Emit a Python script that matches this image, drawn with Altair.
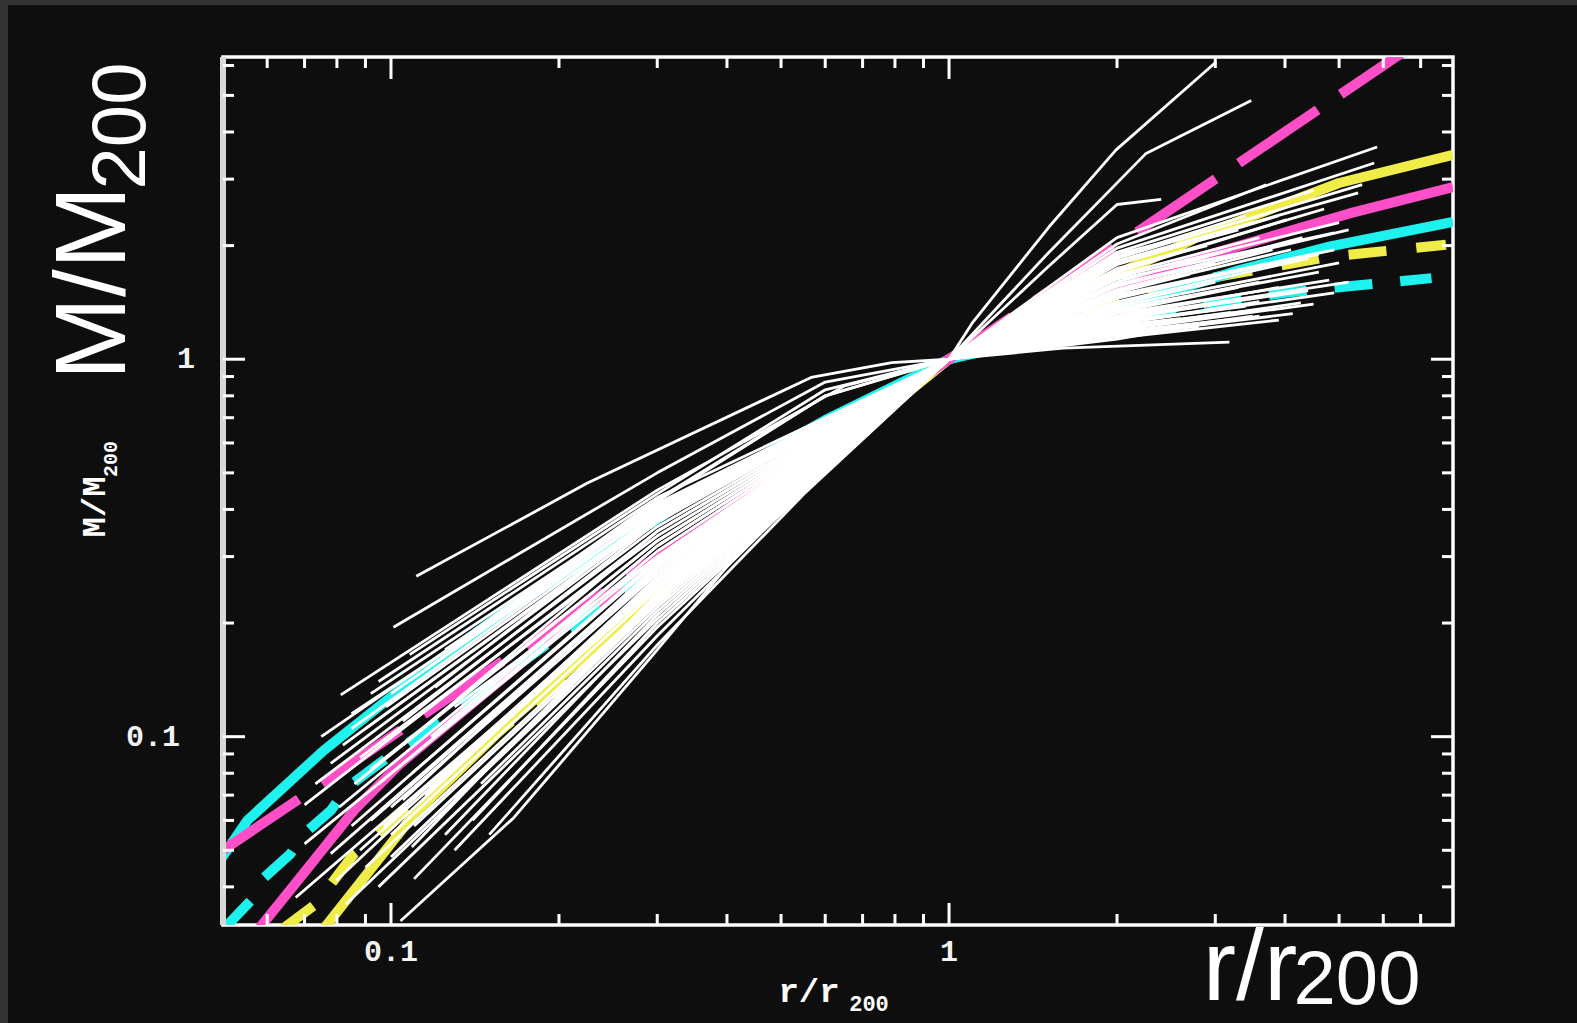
import altair as alt
import pandas as pd

# ---------------- data ----------------
X_DOMAIN = [0.05, 8.0]
Y_DOMAIN = [0.0317, 6.32]

X_MAJOR = [0.1, 1.0]
X_MINOR = [0.06, 0.07, 0.08, 0.09, 0.2, 0.3, 0.4, 0.5, 0.6, 0.7, 0.8, 0.9, 2, 3, 4, 5, 6, 7]
Y_MAJOR = [0.1, 1.0]
Y_MINOR = [0.04, 0.05, 0.06, 0.07, 0.08, 0.09, 0.2, 0.3, 0.4, 0.5, 0.6, 0.7, 0.8, 0.9, 2, 3, 4, 5, 6]
X_LABELS = ["0.1", "1"]
Y_LABELS = ["0.1", "1"]

PINK_DASH_X = [0.0494, 0.1, 0.3, 1.0, 3.0, 6.6]
PINK_DASH_Y = [0.0494, 0.1, 0.3, 1.0, 3.0, 6.6]

PINK_SOLID_X = [0.058, 0.068, 0.086, 0.104, 0.2, 0.4, 0.7, 1.0, 1.6, 2.71, 5.2, 8.0]
PINK_SOLID_Y = [0.031, 0.0415, 0.064, 0.085, 0.19, 0.40, 0.69, 1.0, 1.33, 1.83, 2.43, 2.86]

CYAN_SOLID_X = [0.0494, 0.0553, 0.0758, 0.109, 0.167, 0.29, 0.37, 0.6, 1.0, 1.5, 2.0, 3.3, 4.82, 8.0]
CYAN_SOLID_Y = [0.047, 0.060, 0.092, 0.141, 0.225, 0.365, 0.46, 0.69, 1.0, 1.2, 1.36, 1.72, 1.99, 2.31]

CYAN_DASH_X = [0.0502, 0.056, 0.0592, 0.066, 0.0698, 0.078, 0.0835, 0.0932, 0.2, 0.4, 0.7, 1.0, 2.4, 3.01, 4.0, 5.2, 7.32]
CYAN_DASH_Y = [0.031, 0.0367, 0.0423, 0.0489, 0.0552, 0.0637, 0.0734, 0.0829, 0.185, 0.39, 0.69, 1.0, 1.34, 1.41, 1.5, 1.56, 1.64]

YELLOW_SOLID_X = [0.0758, 0.11, 0.166, 0.3, 0.5, 0.75, 1.0, 1.5, 2.51, 2.79, 5.0, 8.0]
YELLOW_SOLID_Y = [0.031, 0.0623, 0.1125, 0.24, 0.44, 0.71, 1.0, 1.4, 1.95, 2.11, 2.93, 3.48]

YELLOW_DASH_X = [0.064, 0.0733, 0.0859, 0.104, 0.2, 0.4, 0.7, 1.0, 2.0, 3.0, 4.82, 7.77]
YELLOW_DASH_Y = [0.031, 0.036, 0.049, 0.0623, 0.14, 0.33, 0.66, 1.0, 1.4, 1.65, 1.87, 2.01]

# individual simulated profiles (white), each a list of (r/r200, M/M200)
WHITE_CURVES = [
    [[0.111, 0.266], [0.2245, 0.469], [0.566, 0.895], [0.79, 0.98], [1, 1], [1.6, 1.07], [3.18, 1.11]],
    [[0.101, 0.195], [0.3, 0.50], [0.6, 0.87], [1, 1], [2, 1.13], [2.96, 1.25]],
    [[0.0813, 0.129], [0.3, 0.45], [0.65, 0.85], [1, 1], [2, 1.16], [4.13, 1.32]],
    [[0.075, 0.100], [0.3, 0.41], [1, 1], [2, 1.2], [4.27, 1.41]],
    [[0.12, 0.135], [0.3, 0.39], [1, 1], [2, 1.24], [3.6, 1.42]],
    [[0.0732, 0.075], [0.3, 0.36], [1, 1], [2, 1.27], [4.0, 1.50]],
    [[0.105, 0.095], [0.3, 0.35], [1, 1], [2, 1.3], [3.9, 1.55]],
    [[0.088, 0.088], [0.3, 0.34], [1, 1], [2, 1.33], [3.3, 1.55]],
    [[0.0807, 0.065], [0.3, 0.32], [1, 1], [2, 1.36], [4.6, 1.7]],
    [[0.095, 0.075], [0.3, 0.31], [1, 1], [2, 1.4], [3.0, 1.6]],
    [[0.13, 0.12], [0.3, 0.30], [1, 1], [2, 1.42], [4.4, 1.85]],
    [[0.085, 0.058], [0.3, 0.295], [1, 1], [2, 1.45], [3.5, 1.75]],
    [[0.109, 0.08], [0.3, 0.29], [1, 1], [2, 1.48], [4.9, 1.95]],
    [[0.078, 0.049], [0.3, 0.28], [1, 1], [2, 1.5], [2.7, 1.68]],
    [[0.092, 0.06], [0.3, 0.275], [1, 1], [2, 1.53], [3.8, 1.95]],
    [[0.1, 0.065], [0.3, 0.27], [1, 1], [2, 1.56], [4.3, 2.1]],
    [[0.0797, 0.0415], [0.3, 0.26], [1, 1], [2, 1.6], [3.2, 1.95]],
    [[0.115, 0.07], [0.3, 0.255], [1, 1], [2, 1.63], [4.9, 2.16]],
    [[0.0675, 0.0375], [0.3, 0.25], [1, 1], [2, 1.67], [3.6, 2.1]],
    [[0.109, 0.051], [0.3, 0.24], [1, 1], [2, 1.7], [4.02, 2.34]],
    [[0.09, 0.045], [0.3, 0.235], [1, 1], [2, 1.74], [2.9, 2.0]],
    [[0.12, 0.06], [0.3, 0.23], [1, 1], [2, 1.78], [3.9, 2.4]],
    [[0.1, 0.048], [0.3, 0.225], [1, 1], [2, 1.82], [5.41, 2.76]],
    [[0.083, 0.036], [0.3, 0.22], [1, 1], [2, 1.87], [3.4, 2.4]],
    [[0.125, 0.055], [0.3, 0.21], [1, 1], [2, 1.92], [4.5, 2.8]],
    [[0.095, 0.04], [0.3, 0.205], [1, 1], [2, 1.97], [5.78, 3.31]],
    [[0.14, 0.06], [0.3, 0.2], [1, 1], [2, 2.02], [3.7, 2.9]],
    [[0.11, 0.042], [0.3, 0.195], [1, 1], [2, 2.1], [5.85, 3.65]],
    [[0.13, 0.05], [0.3, 0.185], [0.55, 0.45], [1, 1], [1.5, 1.75], [2.0, 2.57], [2.4, 2.65]],
    [[0.15, 0.055], [0.3, 0.175], [0.55, 0.44], [1, 1], [1.5, 1.9], [2.25, 3.5], [3.48, 4.85]],
    [[0.104, 0.0325], [0.166, 0.061], [0.295, 0.165], [0.464, 0.367], [0.676, 0.601], [1, 1],
     [1.1, 1.246], [1.51, 2.24], [1.99, 3.58], [3.01, 6.13]],
    [[0.086, 0.075], [0.3, 0.33], [1, 1], [2, 1.38], [5.0, 1.8]],
    [[0.097, 0.058], [0.3, 0.26], [1, 1], [2, 1.58], [5.2, 2.2]],
    [[0.07, 0.052], [0.3, 0.3], [1, 1], [2, 1.46], [4.6, 1.9]],
    [[0.118, 0.1], [0.3, 0.32], [1, 1], [2, 1.25], [3.4, 1.38]],
    [[0.105, 0.11], [0.3, 0.37], [1, 1], [2, 1.2], [3.0, 1.3]],
    [[0.09, 0.105], [0.3, 0.38], [1, 1], [2, 1.22], [3.7, 1.36]],
    [[0.078, 0.085], [0.3, 0.375], [1, 1], [2, 1.28], [4.4, 1.52]],
    [[0.1, 0.13], [0.3, 0.40], [1, 1], [2, 1.18], [3.3, 1.28]],
    [[0.07, 0.066], [0.3, 0.35], [1, 1], [2, 1.32], [4.8, 1.62]],
    [[0.115, 0.15], [0.3, 0.42], [0.6, 0.8], [1, 1], [2, 1.15], [3.6, 1.3]],
    [[0.095, 0.14], [0.3, 0.43], [1, 1], [2, 1.17], [2.8, 1.22]],
    [[0.085, 0.115], [0.3, 0.395], [1, 1], [2, 1.26], [3.1, 1.36]],
    [[0.105, 0.068], [0.3, 0.285], [1, 1], [2, 1.52], [4.1, 1.95]],
    [[0.088, 0.05], [0.3, 0.25], [1, 1], [2, 1.65], [5.0, 2.3]],
    [[0.12, 0.075], [0.3, 0.265], [1, 1], [2, 1.57], [3.0, 1.8]],
    [[0.1, 0.055], [0.3, 0.245], [1, 1], [2, 1.72], [4.7, 2.5]],
    [[0.13, 0.068], [0.3, 0.235], [1, 1], [2, 1.8], [3.3, 2.2]],
    [[0.11, 0.058], [0.3, 0.23], [1, 1], [2, 1.85], [5.5, 2.9]],
    [[0.145, 0.075], [0.3, 0.215], [1, 1], [2, 1.9], [2.8, 2.15]],
    [[0.092, 0.082], [0.3, 0.33], [1, 1], [2, 1.35], [3.6, 1.6]],
    [[0.082, 0.095], [0.3, 0.385], [1, 1], [2, 1.24], [4.9, 1.5]],
    [[0.108, 0.165], [0.3, 0.44], [0.6, 0.83], [1, 1], [2, 1.14], [3.9, 1.27]],
    [[0.092, 0.13], [0.3, 0.415], [1, 1], [2, 1.19], [4.5, 1.4]],
    [[0.125, 0.17], [0.3, 0.405], [1, 1], [2, 1.21], [3.2, 1.33]],
    [[0.085, 0.105], [0.3, 0.40], [1, 1], [2, 1.23], [2.6, 1.28]],
    [[0.14, 0.19], [0.3, 0.425], [0.6, 0.8], [1, 1], [2, 1.16], [3.5, 1.3]],
    [[0.098, 0.12], [0.3, 0.39], [1, 1], [2, 1.29], [5.2, 1.6]],
]

# ---------------- layout ----------------
W, H = 1230, 868
PAD_L, PAD_T, PAD_R, PAD_B = 223, 57, 124, 98
MAJ, MIN = 22, 11
BG = "#0e0e0e"
CYAN, PINK, YELLOW = "#1ef2ee", "#ff4fc8", "#f0ec48"

xs = alt.Scale(type="log", domain=X_DOMAIN, nice=False)
ys = alt.Scale(type="log", domain=Y_DOMAIN, nice=False)
X = lambda: alt.X("x:Q", scale=xs, axis=None)
Y = lambda: alt.Y("y:Q", scale=ys, axis=None)


def curve(xv, yv, color, dash=None, width=10):
    df = pd.DataFrame({"x": xv, "y": yv, "o": list(range(len(xv)))})
    kw = dict(clip=True, color=color, strokeWidth=width, strokeCap="butt", strokeJoin="round")
    if dash:
        kw["strokeDash"] = dash
    return alt.Chart(df).mark_line(**kw).encode(x=X(), y=Y(), order="o:Q")


rows = []
for i, c in enumerate(WHITE_CURVES):
    for j, (xv, yv) in enumerate(c):
        rows.append({"id": i, "o": j, "x": xv, "y": yv})
white = alt.Chart(pd.DataFrame(rows)).mark_line(
    clip=True, color="white", strokeWidth=2.8, strokeJoin="round"
).encode(x=X(), y=Y(), detail="id:N", order="o:Q")

one = pd.DataFrame({"a": [0]})
strip_left = alt.Chart(one).mark_rect(color="#333333").encode(
    x=alt.value(-PAD_L), x2=alt.value(-PAD_L + 8), y=alt.value(-PAD_T), y2=alt.value(H + PAD_B))
strip_top = alt.Chart(one).mark_rect(color="#333333").encode(
    x=alt.value(-PAD_L), x2=alt.value(W + PAD_R), y=alt.value(-PAD_T), y2=alt.value(-PAD_T + 5))

left_frame = alt.Chart(one).mark_rule(color="#d8d8d8", strokeWidth=6).encode(
    x=alt.value(0), y=alt.value(0), y2=alt.value(H))


def xticks(vals, L):
    df = pd.DataFrame({"x": vals})
    b = alt.Chart(df).mark_rule(color="white", strokeWidth=3).encode(x=X(), y=alt.value(H), y2=alt.value(H - L))
    t = alt.Chart(df).mark_rule(color="white", strokeWidth=3).encode(x=X(), y=alt.value(0), y2=alt.value(L))
    return b + t


def yticks(vals, L):
    df = pd.DataFrame({"y": vals})
    l = alt.Chart(df).mark_rule(color="white", strokeWidth=3).encode(y=Y(), x=alt.value(0), x2=alt.value(L))
    r = alt.Chart(df).mark_rule(color="white", strokeWidth=3).encode(y=Y(), x=alt.value(W), x2=alt.value(W - L))
    return l + r


xlab = alt.Chart(pd.DataFrame({"x": X_MAJOR, "t": X_LABELS})).mark_text(
    font="Liberation Mono", fontSize=30, fontWeight="bold", color="#f2f2f2", align="center", baseline="middle"
).encode(x=X(), y=alt.value(H + 27), text="t:N")

ylab1 = alt.Chart(pd.DataFrame({"y": [Y_MAJOR[1]], "t": [Y_LABELS[1]]})).mark_text(
    font="Liberation Mono", fontSize=30, fontWeight="bold", color="#f2f2f2", align="right", baseline="middle"
).encode(y=Y(), x=alt.value(-28), text="t:N")
ylab0 = alt.Chart(pd.DataFrame({"y": [Y_MAJOR[0]], "t": [Y_LABELS[0]]})).mark_text(
    font="Liberation Mono", fontSize=30, fontWeight="bold", color="#f2f2f2", align="right", baseline="middle"
).encode(y=Y(), x=alt.value(-43), text="t:N")


def label(text, x, y, size, font="Liberation Sans", angle=0, weight="normal"):
    kw = dict(font=font, fontSize=size, fontWeight=weight, color="white", align="center", baseline="alphabetic")
    if angle:
        kw["angle"] = angle
    return alt.Chart(pd.DataFrame({"t": [text]})).mark_text(**kw).encode(
        x=alt.value(x), y=alt.value(y), text="t:N")


titles = (
    label("M/M", -98, 226, 100, angle=270)
    + label("200", -78, 69, 76, angle=270)
    + label("r/r", 1027, 943, 100)
    + label("200", 1134, 947, 76)
    + label("M/M", -118, 450, 34, font="Liberation Mono", angle=270, weight="bold")
    + label("200", -106, 402, 20, font="Liberation Mono", angle=270, weight="bold")
    + label("r/r", 586, 945, 34, font="Liberation Mono", weight="bold")
    + label("200", 646, 954, 22, font="Liberation Mono", weight="bold")
)

chart = alt.layer(
    strip_left, strip_top,
    curve(YELLOW_SOLID_X, YELLOW_SOLID_Y, YELLOW),
    curve(YELLOW_DASH_X, YELLOW_DASH_Y, YELLOW, dash=[38, 30]),
    curve(PINK_SOLID_X, PINK_SOLID_Y, PINK),
    curve(CYAN_DASH_X, CYAN_DASH_Y, CYAN, dash=[38, 28]),
    curve(CYAN_SOLID_X, CYAN_SOLID_Y, CYAN),
    curve(PINK_DASH_X, PINK_DASH_Y, PINK, dash=[95, 28]),
    white,
    left_frame,
    xticks(X_MAJOR, MAJ), xticks(X_MINOR, MIN),
    yticks(Y_MAJOR, MAJ), yticks(Y_MINOR, MIN),
    xlab, ylab1, ylab0,
    titles,
).properties(
    width=W, height=H,
    autosize=alt.AutoSizeParams(type="none"),
    padding={"left": PAD_L, "top": PAD_T, "right": PAD_R, "bottom": PAD_B},
    background=BG,
).configure_view(stroke="white", strokeWidth=3.5)

chart.save("out.html", embed_options={"renderer": "svg", "actions": False})
